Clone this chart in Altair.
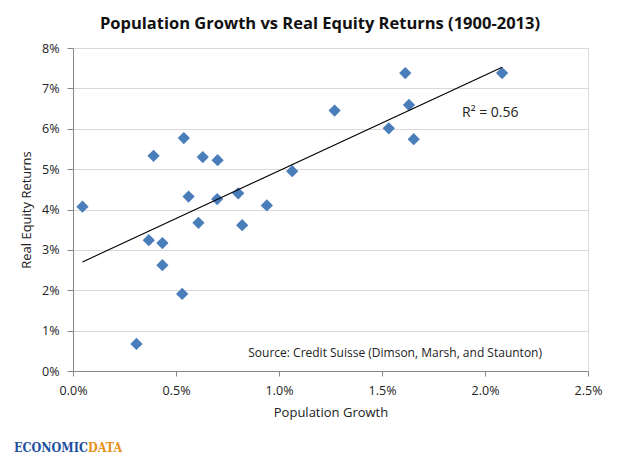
import altair as alt
import pandas as pd

# Population growth (% p.a.) and real equity returns (% p.a.), 1900-2013
pop_growth = [0.046, 0.308, 0.368, 0.391, 0.434, 0.434, 0.530, 0.538, 0.561, 0.609,
              0.630, 0.702, 0.700, 0.802, 0.821, 0.941, 1.064, 1.270, 1.533, 1.613,
              1.631, 1.654, 2.083]
equity_ret = [4.07, 0.67, 3.24, 5.33, 3.17, 2.62, 1.91, 5.77, 4.32, 3.67,
              5.30, 5.22, 4.26, 4.40, 3.61, 4.10, 4.95, 6.45, 6.01, 7.38,
              6.59, 5.74, 7.38]

x_ticks = [0.0, 0.005, 0.01, 0.015, 0.02, 0.025]
y_ticks = [0.0, 0.01, 0.02, 0.03, 0.04, 0.05, 0.06, 0.07, 0.08]

df = pd.DataFrame({
    "pop": [v / 100 for v in pop_growth],
    "ret": [v / 100 for v in equity_ret],
})

FONT = "Open Sans"
W, H = 515, 323

xscale = alt.Scale(domain=[0, 0.025], nice=False, zero=False)
yscale = alt.Scale(domain=[0, 0.08], nice=False, zero=False)

xaxis = alt.Axis(values=x_ticks, format=".1%", title="Population Growth",
                 grid=False, domain=True, domainColor="#868686", tickColor="#868686",
                 tickSize=5, labelPadding=8, labelFont=FONT, labelFontSize=12.5,
                 labelColor="#222222", titleFont=FONT, titleFontSize=13,
                 titleFontWeight="normal", titleColor="#222222", titlePadding=10,
                 labelFlush=False)
yaxis = alt.Axis(values=y_ticks, format=".0%", title="Real Equity Returns",
                 grid=True, gridColor="#d9d9d9", gridWidth=1.2,
                 domain=True, domainColor="#868686", tickColor="#868686",
                 tickSize=6, labelPadding=8, labelFont=FONT, labelFontSize=12.5,
                 labelColor="#222222", titleFont=FONT, titleFontSize=13,
                 titleFontWeight="normal", titleColor="#222222", titlePadding=8)

base = alt.Chart(df)

points = base.mark_point(shape="diamond", filled=True, size=150, opacity=1,
                         color="#4a7ebb").encode(
    x=alt.X("pop:Q", scale=xscale, axis=xaxis),
    y=alt.Y("ret:Q", scale=yscale, axis=yaxis),
)

trend = base.transform_regression("pop", "ret").mark_line(
    color="#000000", strokeWidth=1.1).encode(
    x=alt.X("pop:Q", scale=xscale),
    y=alt.Y("ret:Q", scale=yscale),
)

ann = alt.Chart(pd.DataFrame({"t": ["R\u00b2 = 0.56"]})).mark_text(
    align="left", baseline="middle", font=FONT, fontSize=14, color="#222222").encode(
    x=alt.value(389), y=alt.value(65), text="t:N")

src = alt.Chart(pd.DataFrame({"t": ["Source: Credit Suisse (Dimson, Marsh, and Staunton)"]})).mark_text(
    align="right", baseline="middle", font=FONT, fontSize=12, color="#222222").encode(
    x=alt.value(469), y=alt.value(305), text="t:N")

title = alt.Chart(pd.DataFrame({"t": ["Population Growth vs Real Equity Returns (1900-2013)"]})).mark_text(
    align="center", baseline="alphabetic", font=FONT, fontSize=16.5, fontWeight="bold",
    color="#111111").encode(
    x=alt.value(247), y=alt.value(-19), text="t:N")

LOGO_FONT = "DejaVu Serif Condensed, DejaVu Serif"
logo1 = alt.Chart(pd.DataFrame({"t": ["ECONOMIC"]})).mark_text(
    align="right", baseline="alphabetic", font=LOGO_FONT, fontSize=12.5,
    fontWeight="bold", color="#1f4f9f").encode(
    x=alt.value(15), y=alt.value(404), text="t:N")
logo2 = alt.Chart(pd.DataFrame({"t": ["DATA"]})).mark_text(
    align="left", baseline="alphabetic", font=LOGO_FONT, fontSize=12.5,
    fontWeight="bold", color="#e8901c").encode(
    x=alt.value(15), y=alt.value(404), text="t:N")

chart = alt.layer(points, trend, ann, src, title, logo1, logo2).properties(
    width=W, height=H,
    autosize=alt.AutoSizeParams(type="none"),
    padding={"left": 65, "top": 40, "right": 44, "bottom": 84},
).configure_view(stroke="#898989", strokeWidth=1).configure(background="white")

chart.save("out.html", embed_options={"renderer": "svg", "actions": False})
